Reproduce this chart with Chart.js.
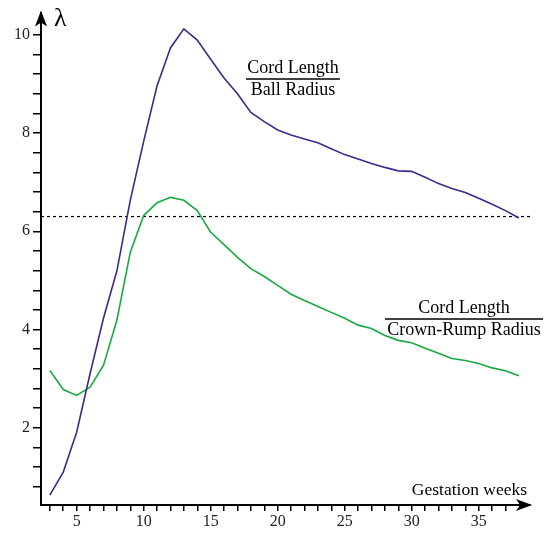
<!DOCTYPE html>
<html>
<head>
<meta charset="utf-8">
<script src="https://cdn.jsdelivr.net/npm/chart.js@4"></script>
<style>
  html, body { margin: 0; padding: 0; background: #fff; }
  #wrap { width: 544px; height: 533px; }
</style>
</head>
<body>
<div id="wrap"><canvas id="lambda"></canvas></div>
<script>
'use strict'
// gestation weeks
const weeks = [3,4,5,6,7,8,9,10,11,12,13,14,15,16,17,18,19,20,21,22,23,24,25,26,27,28,29,30,31,32,33,34,35,36,37,38]
// cord length / ball radius
const ballRadius = [0.63,1.10,1.91,3.10,4.23,5.19,6.63,7.83,8.96,9.73,10.12,9.89,9.50,9.12,8.80,8.42,8.23,8.06,7.96,7.88,7.80,7.68,7.56,7.47,7.38,7.30,7.23,7.22,7.10,6.97,6.87,6.79,6.67,6.55,6.42,6.27]
// cord length / crown-rump radius
const crownRump = [3.17,2.78,2.66,2.83,3.27,4.19,5.57,6.32,6.58,6.69,6.63,6.42,5.98,5.73,5.47,5.24,5.08,4.90,4.72,4.59,4.47,4.35,4.23,4.09,4.02,3.88,3.78,3.73,3.62,3.52,3.41,3.37,3.31,3.22,3.16,3.06]
const threshold = 6.3
const xRange = [2.34, 38.83]
const yRange = [0.43, 10.45]

const serif = '"Liberation Serif", "DejaVu Serif", serif'
const purple = 'rgb(62, 40, 142)'
const green = 'rgb(24, 170, 64)'

const toPts = (ys) => weeks.map((w, i) => ({x: w, y: ys[i]}))

const annotations = {
  id: 'annotations',
  afterDraw(chart) {
    const ctx = chart.ctx
    const a = chart.chartArea
    ctx.save()
    ctx.fillStyle = '#000'
    ctx.strokeStyle = '#000'
    // arrow heads
    ctx.beginPath()
    ctx.moveTo(a.left, a.top - 2); ctx.lineTo(a.left - 6, a.top + 14); ctx.lineTo(a.left, a.top + 10); ctx.lineTo(a.left + 6, a.top + 14); ctx.closePath()
    ctx.fill()
    ctx.beginPath()
    ctx.moveTo(a.right + 2, a.bottom); ctx.lineTo(a.right - 14, a.bottom - 6); ctx.lineTo(a.right - 10, a.bottom); ctx.lineTo(a.right - 14, a.bottom + 6); ctx.closePath()
    ctx.fill()

    ctx.textBaseline = 'middle'
    ctx.font = '26px ' + serif
    ctx.textAlign = 'left'
    ctx.fillText('λ', 54, 19)

    ctx.font = '17.5px ' + serif
    ctx.textAlign = 'right'
    ctx.fillText('Gestation weeks', 527, 490)

    const frac = (cx, cy, top, bottom, half) => {
      ctx.font = '18px ' + serif
      ctx.textAlign = 'center'
      ctx.fillText(top, cx, cy - 11)
      ctx.fillText(bottom, cx, cy + 11)
      ctx.lineWidth = 1.3
      ctx.beginPath(); ctx.moveTo(cx - half, cy); ctx.lineTo(cx + half, cy); ctx.stroke()
    }
    frac(293, 79, 'Cord Length', 'Ball Radius', 47)
    frac(464, 319, 'Cord Length', 'Crown-Rump Radius', 79)
    ctx.restore()
  }
}

const config = {
  type: 'line',
  data: {
    datasets: [
      { label: 'Cord Length / Ball Radius', data: toPts(ballRadius), borderColor: purple, borderWidth: 1.6, pointRadius: 0, tension: 0 },
      { label: 'Cord Length / Crown-Rump Radius', data: toPts(crownRump), borderColor: green, borderWidth: 1.6, pointRadius: 0, tension: 0 },
      { label: 'threshold', data: [{x: xRange[0], y: threshold}, {x: xRange[1], y: threshold}], borderColor: '#000', borderWidth: 1.2, borderDash: [3, 3], pointRadius: 0 }
    ]
  },
  options: {
    responsive: true,
    maintainAspectRatio: false,
    animation: false,
    layout: { padding: { top: 12, right: 14, left: 0, bottom: 0 } },
    plugins: { legend: { display: false }, tooltip: { enabled: false } },
    scales: {
      x: {
        type: 'linear',
        min: xRange[0], max: xRange[1],
        afterFit: (s) => { s.height = 28 },
        afterBuildTicks: (s) => { s.ticks = s.ticks.filter(t => t.value >= 3 && t.value <= 37.5) },
        border: { display: true, color: '#000', width: 2 },
        grid: { drawOnChartArea: false, drawTicks: true, tickLength: 6, color: '#000', lineWidth: 1.5 },
        ticks: {
          stepSize: 1, includeBounds: false, autoSkip: false, maxRotation: 0, padding: 1,
          color: '#222', font: { family: serif, size: 16 },
          callback: (v) => (Math.abs(v % 5) < 1e-6 ? String(Math.round(v)) : '')
        }
      },
      y: {
        type: 'linear',
        min: yRange[0], max: yRange[1],
        afterFit: (s) => { s.width = 41 },
        afterBuildTicks: (s) => { s.ticks = s.ticks.filter(t => t.value <= 10.1) },
        border: { display: true, color: '#000', width: 2 },
        grid: { drawOnChartArea: false, drawTicks: true, tickLength: 8, color: '#000', lineWidth: 1.5 },
        ticks: {
          stepSize: 0.4, includeBounds: false, autoSkip: false, padding: 3,
          color: '#222', font: { family: serif, size: 16 },
          callback: (v) => {
            const r = Math.round(v)
            return (Math.abs(v - r) < 1e-6 && r % 2 === 0) ? String(r) : ''
          }
        }
      }
    }
  },
  plugins: [annotations]
}

let grafica = new Chart(document.querySelector('#lambda'), config)
</script>
</body>
</html>
